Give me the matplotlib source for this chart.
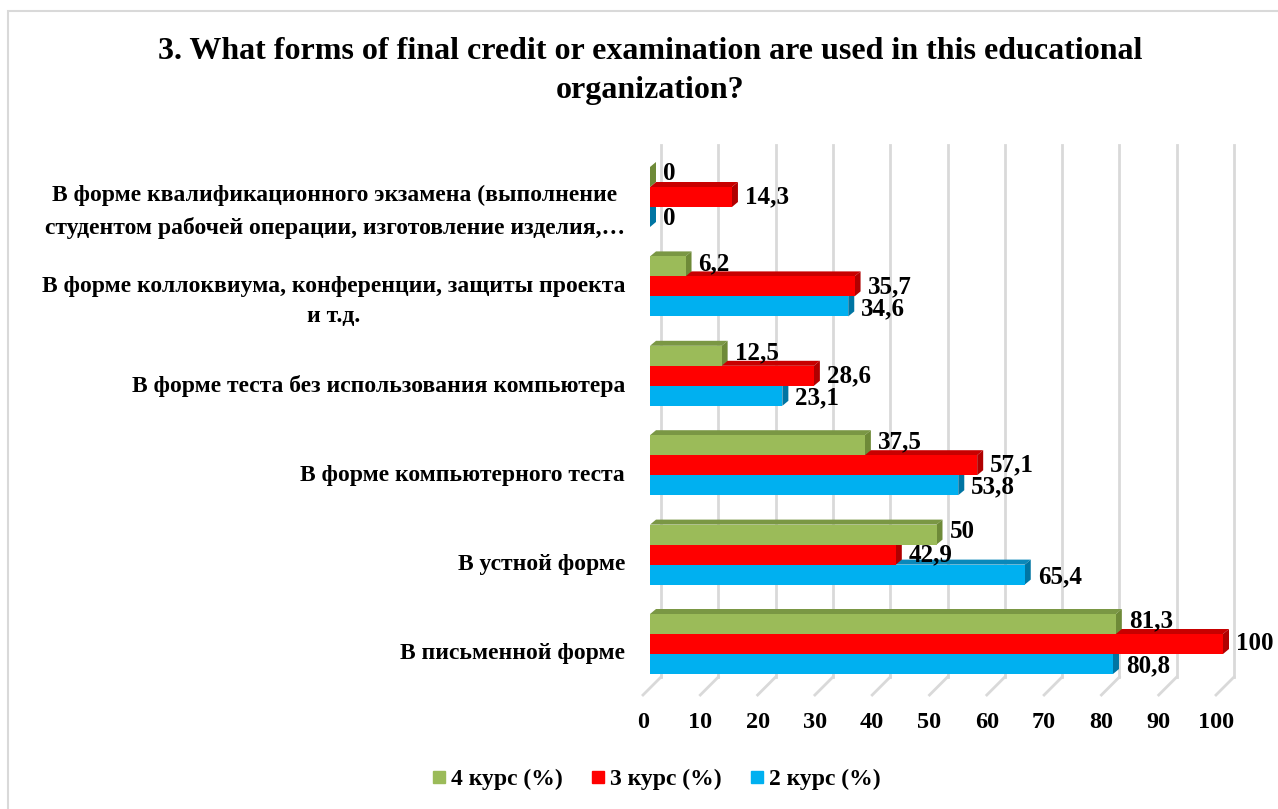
import matplotlib.pyplot as plt
from matplotlib.patches import Polygon, Rectangle
from matplotlib.lines import Line2D

plt.rcParams['font.family'] = ['Liberation Serif', 'DejaVu Serif']
plt.rcParams['font.weight'] = 'bold'

# data (bottom to top on the chart)
categories = [
    "В письменной форме",
    "В устной форме",
    "В форме компьютерного теста",
    "В форме теста без использования компьютера",
    "В форме коллоквиума, конференции, защиты проекта\nи т.д.",
    "В форме квалификационного экзамена (выполнение\nстудентом рабочей операции, изготовление изделия,…",
]
kurs4 = [81.3, 50, 37.5, 12.5, 6.2, 0]
kurs3 = [100, 42.9, 57.1, 28.6, 35.7, 14.3]
kurs2 = [80.8, 65.4, 53.8, 23.1, 34.6, 0]
labels4 = ["81,3", "50", "37,5", "12,5", "6,2", "0"]
labels3 = ["100", "42,9", "57,1", "28,6", "35,7", "14,3"]
labels2 = ["80,8", "65,4", "53,8", "23,1", "34,6", "0"]
xticks = list(range(0, 101, 10))

W, H = 1278, 809
fig = plt.figure(figsize=(W / 100, H / 100), dpi=100)
# chart border (only top and left edges visible in the picture)
fig.patches.append(Rectangle((8 / W, -0.05), 1.1, 1.05 - 11 / H,
                             transform=fig.transFigure, fill=False,
                             edgecolor='#D9D9D9', linewidth=1.5))

ax_l, ax_r, ax_top, ax_bot = 650, 1223, 145, 695
ax = fig.add_axes([ax_l / W, 1 - ax_bot / H, (ax_r - ax_l) / W, (ax_bot - ax_top) / H])
ax.set_xlim(0, 100)
step = 89.4
ax.set_ylim(-(ax_bot - 644) / step, 5 + (197 - ax_top) / step)
for s in ax.spines.values():
    s.set_visible(False)
ax.set_xticks([])
ax.set_yticks([])

px_x = (ax_r - ax_l) / 100.0   # pixels per x unit
h = 20 / step
dx, dy = 6 / px_x, 5 / step

# gridlines with floor stubs (3D look)
y_top = 5 + (197 - ax_top) / step
y_back = -(677 - 644) / step
y_front = -(695 - 644) / step
for v in xticks:
    gx = v + 11 / px_x
    ax.plot([gx, gx], [y_top, y_back], color='#D9D9D9', lw=2, clip_on=False, zorder=0)
    ax.plot([gx, v - 7 / px_x], [y_back, y_front], color='#D9D9D9', lw=2,
            clip_on=False, zorder=0)
    ax.text(v - 7 / px_x, -(722 - 644) / step, str(v), ha='center', va='center',
            fontsize=17.5, fontweight='bold')

# drawn bottom bar first so the bar above hides its top face
series = [
    (kurs2, labels2, -h, '#00B0F0', '#0A88BA', '#0075A3', 2),
    (kurs3, labels3, 0, '#FF0000', '#C80000', '#B00000', 0),
    (kurs4, labels4, h, '#9BBB59', '#7A9744', '#6E8A38', -3),
]
z = 2
for vals, labs, off, front, top, side, ly in series:
    for i, v in enumerate(vals):
        y0 = i + off - h / 2
        y1 = i + off + h / 2
        ax.add_patch(Polygon([(0, y1), (v, y1), (v + dx, y1 + dy), (dx, y1 + dy)],
                             closed=True, facecolor=top, edgecolor='none', zorder=z,
                             clip_on=False))
        ax.add_patch(Polygon([(v, y0), (v, y1), (v + dx, y1 + dy), (v + dx, y0 + dy)],
                             closed=True, facecolor=side, edgecolor='none', zorder=z,
                             clip_on=False))
        ax.barh(i + off, v, height=h, color=front, zorder=z + 0.5, linewidth=0)
        ax.annotate(labs[i], (v, i + off), xytext=(13 * 0.72, -ly * 0.72),
                    textcoords='offset points', ha='left', va='center',
                    fontsize=18, fontweight='bold', annotation_clip=False, zorder=10)
    z += 1

for i, c in enumerate(categories):
    shift = 15 if '\n' in c else 10
    ax.annotate(c, (0, i - shift / step), xytext=(-25 * 0.72, 0),
                textcoords='offset points', ha='right', va='center',
                multialignment='center', fontsize=17, fontweight='bold',
                linespacing=1.6, annotation_clip=False)

fig.text(650 / W, 1 - 71 / H,
         "3. What forms of final credit or examination are used in this educational\norganization?",
         ha='center', va='center', fontsize=23, fontweight='bold', linespacing=1.45)

handles = [Line2D([], [], marker='s', linestyle='none', markersize=9, color=c)
           for c in ['#9BBB59', '#FF0000', '#00B0F0']]
fig.legend(handles, ["4 курс (%)", "3 курс (%)", "2 курс (%)"], ncol=3,
           loc='center', bbox_to_anchor=(655 / W, 1 - 779 / H), frameon=False,
           prop={'size': 17, 'weight': 'bold'}, handletextpad=0.1, columnspacing=1.1,
           handlelength=0.8)

fig.savefig('out.png', dpi=100)
